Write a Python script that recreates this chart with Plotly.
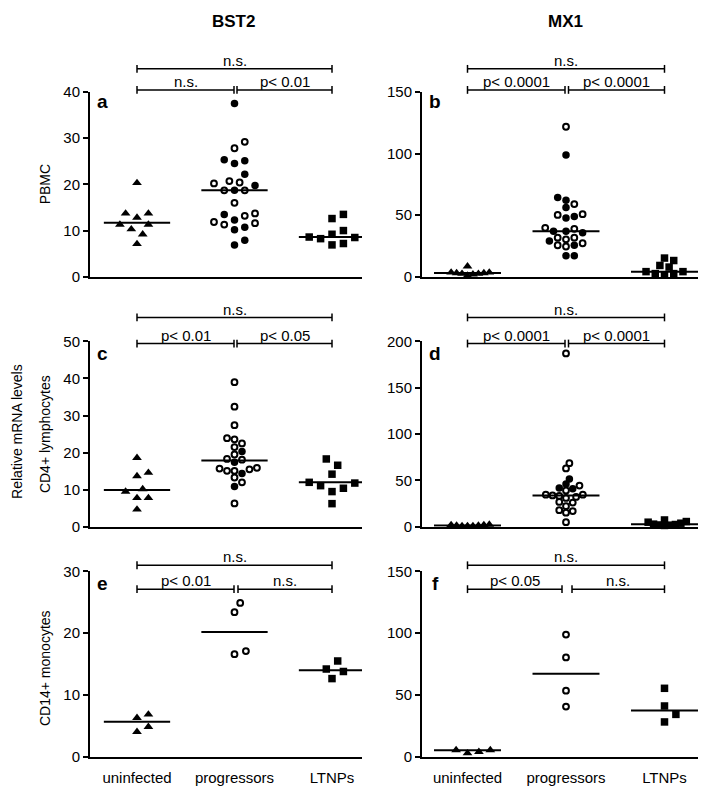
import numpy as np
import plotly.graph_objects as go

# ---------------- data ----------------
categories = ["uninfected", "progressors", "LTNPs"]
genes = ["BST2", "MX1"]
cell_types = ["PBMC", "CD4+ lymphocytes", "CD14+ monocytes"]
panel_letters = ["a", "b", "c", "d", "e", "f"]

# a: BST2 / PBMC
a_uninf = [20.3, 13.7, 13.7, 12.8, 11.3, 11.3, 10.3, 9.2, 7.1]
a_prog_filled = [37.5, 25.3, 25.1, 24.5, 22.2, 19.75, 18.7, 13.5, 12.3, 10.7, 10.2, 7.9, 6.9]
a_prog_open = [29.2, 27.8, 20.7, 20.4, 20.2, 18.7, 18.7, 16.0, 13.7, 13.2, 11.85, 11.6, 11.3]
a_ltnp = [13.5, 12.6, 10.0, 9.2, 8.6, 8.5, 8.25, 7.2, 6.9]
a_medians = [11.7, 18.7, 8.6]

# b: MX1 / PBMC
b_uninf = [2.5, 3.0, 3.5, 1.0, 3.0, 2.5, 8.5, 2.0, 3.5]
b_prog_filled = [98.7, 64.3, 62.1, 56.3, 48.9, 47.6, 37.0, 37.0, 35.7, 29.0, 25.6, 17.1, 17.1]
b_prog_open = [121.7, 59.0, 50.8, 50.2, 39.7, 38.9, 31.7, 31.7, 30.4, 27.2, 25.6, 24.6]
b_ltnp = [15.2, 13.2, 9.2, 7.9, 4.2, 4.2, 2.6, 2.6, 1.6]
b_medians = [3.0, 37.0, 4.2]

# c: BST2 / CD4+
c_uninf = [18.6, 14.6, 13.7, 10.2, 9.5, 7.8, 7.8, 4.7]
c_prog_filled = [20.3, 17.4, 14.4, 10.9]
c_prog_open = [39.0, 32.4, 27.4, 23.9, 23.6, 22.5, 21.5, 19.5, 18.3, 18.1, 15.9,
               15.7, 15.5, 15.1, 15.1, 13.3, 12.0, 6.3]
c_ltnp = [18.3, 16.6, 14.2, 12.0, 11.8, 11.1, 10.4, 9.5, 6.25]
c_medians = [9.9, 17.9, 12.0]

# d: MX1 / CD4+
d_uninf = [1.0, 2.0, 1.5, 1.0, 2.5, 1.5, 2.0, 1.0]
d_prog_filled = [51.6, 46.3, 41.8, 41.0]
d_prog_open = [187.0, 68.6, 63.0, 44.5, 39.2, 34.7, 34.7, 33.9, 33.3, 32.2, 31.2,
               26.9, 26.2, 22.3, 18.0, 17.0, 15.3, 5.0]
d_ltnp = [7.4, 5.7, 5.0, 3.9, 2.9, 2.5, 2.0, 1.8, 1.5]
d_medians = [1.5, 33.9, 2.9]

# e: BST2 / CD14+
e_uninf = [6.85, 6.3, 4.85, 4.05]
e_prog_filled = []
e_prog_open = [24.9, 23.4, 17.1, 16.6]
e_ltnp = [15.5, 14.2, 13.8, 12.65]
e_medians = [5.65, 20.2, 14.0]

# f: MX1 / CD14+
f_uninf = [5.5, 5.5, 4.0, 2.9]
f_prog_filled = []
f_prog_open = [98.9, 80.4, 53.5, 40.6]
f_ltnp = [55.4, 41.1, 34.3, 28.2]
f_medians = [5.3, 67.2, 37.4]

y_max = [40, 150, 50, 200, 30, 150]
y_dtick = [10, 50, 10, 50, 10, 50]

bracket_labels = [
    ("n.s.", "n.s.", "p< 0.01"),
    ("n.s.", "p< 0.0001", "p< 0.0001"),
    ("n.s.", "p< 0.01", "p< 0.05"),
    ("n.s.", "p< 0.0001", "p< 0.0001"),
    ("n.s.", "p< 0.01", "n.s."),
    ("n.s.", "p< 0.05", "n.s."),
]

panels = [
    (a_uninf, a_prog_filled, a_prog_open, a_ltnp, a_medians),
    (b_uninf, b_prog_filled, b_prog_open, b_ltnp, b_medians),
    (c_uninf, c_prog_filled, c_prog_open, c_ltnp, c_medians),
    (d_uninf, d_prog_filled, d_prog_open, d_ltnp, d_medians),
    (e_uninf, e_prog_filled, e_prog_open, e_ltnp, e_medians),
    (f_uninf, f_prog_filled, f_prog_open, f_ltnp, f_medians),
]

# ---------------- layout geometry (page pixels) ----------------
W, H = 710, 793
OFF = 8  # the page body margin shifts the figure by 8px
FONT = "Arial, 'Liberation Sans', sans-serif"
col_px = [(90, 362), (422, 698)]
col_cat0 = [137.0, 467.5]
col_step = [97.5, 98.5]
row_px = [(84.5, 273.5), (339.5, 529.0), (574.5, 764.0)]
row_brackets = [(61.0, 82.5), (315.0, 341.7), (568.3, 592.7)]
lower_gap_px = [(0.5, 2.5), (1.0, 2.5), (0.5, 2.5), (1.0, 2.5), (0.5, 3.5), (4.0, 6.0)]
letter_y = [94, 352, 587]
letter_x = [103, 435]


def pyp(y):
    return 1 - (y - OFF) / H


def pxp(x):
    return (x - OFF) / W


def swarm(vals, ppu_y, ppu_x, D=10.0, h=5.7, limit=24.0):
    vals = np.asarray(vals, float)
    if len(vals) == 0:
        return np.zeros(0)
    cands = [0]
    for j in range(1, 80):
        cands += [j, -j]
    scale = 1.0
    off = np.zeros(len(vals))
    for _ in range(30):
        d, s = D * scale, h * scale
        order = np.argsort(vals, kind="stable")
        placed = []
        off = np.zeros(len(vals))
        for i in order:
            yv = vals[i] * ppu_y
            xv = 0.0
            for kk in cands:
                xv = kk * s
                if all((xv - xp) ** 2 + (yv - yp) ** 2 >= d * d - 1e-9 for xp, yp in placed):
                    break
            placed.append((xv, yv))
            off[i] = xv
        if np.abs(off).max() <= limit:
            break
        scale *= 0.9
    return off / ppu_x


fig = go.Figure()
shapes = []
annotations = []
layout_axes = {}

for p, (uninf, pfill, popen, ltnp, meds) in enumerate(panels):
    row, col = divmod(p, 2)
    xn = "x" if p == 0 else f"x{p+1}"
    yn = "y" if p == 0 else f"y{p+1}"
    xl = col_px[col]
    yl = row_px[row]
    step = col_step[col]
    x_lo = -(col_cat0[col] - xl[0]) / step
    x_hi = (xl[1] - col_cat0[col]) / step
    ppu_x = step
    ppu_y = (yl[1] - yl[0]) / y_max[p]

    xkey = "xaxis" if p == 0 else f"xaxis{p+1}"
    ykey = "yaxis" if p == 0 else f"yaxis{p+1}"
    layout_axes[xkey] = dict(
        domain=[pxp(xl[0]), pxp(xl[1])], range=[x_lo, x_hi], anchor=yn,
        showline=True, linecolor="black", linewidth=2, showgrid=False, zeroline=False,
        ticks="", tickvals=[0, 1, 2], ticktext=categories,
        showticklabels=(row == 2), tickfont=dict(size=15, color="black", family=FONT),
        ticklabelstandoff=6,
    )
    layout_axes[ykey] = dict(
        domain=[pyp(yl[1]), pyp(yl[0])], range=[0, y_max[p]], anchor=xn,
        showline=True, linecolor="black", linewidth=2, showgrid=False, zeroline=False,
        ticks="outside", ticklen=5, tickwidth=2, tickcolor="black",
        dtick=y_dtick[p], tick0=0, tickfont=dict(size=15, color="black", family=FONT),
    )

    # scatter points
    off_u = swarm(uninf, ppu_y, ppu_x)
    prog_all = list(pfill) + list(popen)
    off_p = swarm(prog_all, ppu_y, ppu_x)
    off_l = swarm(ltnp, ppu_y, ppu_x)
    nf = len(pfill)

    fig.add_trace(go.Scatter(
        x=0 + off_u, y=uninf, mode="markers", xaxis=xn, yaxis=yn, cliponaxis=False,
        marker=dict(symbol="triangle-up", size=8.5, color="black", line=dict(width=0)),
        showlegend=False, hoverinfo="skip"))
    if nf:
        fig.add_trace(go.Scatter(
            x=1 + off_p[:nf], y=pfill, mode="markers", xaxis=xn, yaxis=yn, cliponaxis=False,
            marker=dict(symbol="circle", size=7.5, color="black", line=dict(width=0)),
            showlegend=False, hoverinfo="skip"))
    fig.add_trace(go.Scatter(
        x=1 + off_p[nf:], y=popen, mode="markers", xaxis=xn, yaxis=yn, cliponaxis=False,
        marker=dict(symbol="circle", size=5.8, color="white", line=dict(width=2, color="black")),
        showlegend=False, hoverinfo="skip"))
    fig.add_trace(go.Scatter(
        x=2 + off_l, y=ltnp, mode="markers", xaxis=xn, yaxis=yn, cliponaxis=False,
        marker=dict(symbol="square", size=7.5, color="black", line=dict(width=0)),
        showlegend=False, hoverinfo="skip"))

    # median lines
    for i, m in enumerate(meds):
        fig.add_trace(go.Scatter(
            x=[i - 0.34, i + 0.34], y=[m, m], mode="lines", xaxis=xn, yaxis=yn,
            cliponaxis=False, line=dict(color="black", width=2),
            showlegend=False, hoverinfo="skip"))

    # significance brackets
    top_y, low_y = row_brackets[row]
    gl, gr = lower_gap_px[p]
    tick_h = 4.0
    segs = [
        (0.0, 2.0, top_y, bracket_labels[p][0]),
        (0.0, 1.0 - gl / step, low_y, bracket_labels[p][1]),
        (1.0 + gr / step, 2.0, low_y, bracket_labels[p][2]),
    ]
    for x0, x1, yy, lab in segs:
        shapes.append(dict(type="line", xref=xn, yref="paper", x0=x0, x1=x1,
                           y0=pyp(yy), y1=pyp(yy), line=dict(color="black", width=1.5)))
        for xe in (x0, x1):
            shapes.append(dict(type="line", xref=xn, yref="paper", x0=xe, x1=xe,
                               y0=pyp(yy - tick_h), y1=pyp(yy + tick_h),
                               line=dict(color="black", width=1.5)))
        annotations.append(dict(text=lab, xref=xn, yref="paper", x=(x0 + x1) / 2,
                                y=pyp(yy - 8.5), showarrow=False, xanchor="center",
                                yanchor="middle", font=dict(size=15, color="black", family=FONT)))

    # panel letter
    annotations.append(dict(text=f"<b>{panel_letters[p]}</b>", xref="paper", yref="paper",
                            x=pxp(letter_x[col]), y=pyp(letter_y[row]), showarrow=False,
                            xanchor="center", yanchor="middle",
                            font=dict(size=19, color="black", family=FONT)))

# column titles
for c, g in enumerate(genes):
    annotations.append(dict(text=f"<b>{g}</b>", xref="paper", yref="paper",
                            x=pxp([233, 565][c]), y=pyp(13), showarrow=False,
                            xanchor="center", yanchor="middle",
                            font=dict(size=17, color="black", family=FONT)))

# row labels
for r, ct in enumerate(cell_types):
    annotations.append(dict(text=ct, xref="paper", yref="paper",
                            x=pxp(45), y=pyp((row_px[r][0] + row_px[r][1]) / 2 + (4 if r == 2 else 0)),
                            showarrow=False, textangle=-90, xanchor="center", yanchor="middle",
                            font=dict(size=14, color="black", family=FONT)))
annotations.append(dict(text="Relative mRNA levels", xref="paper", yref="paper",
                        x=pxp(17), y=pyp(432), showarrow=False, textangle=-90,
                        xanchor="center", yanchor="middle",
                        font=dict(size=14, color="black", family=FONT)))

fig.update_layout(
    width=W, height=H, autosize=False,
    margin=dict(l=0, r=0, t=0, b=0),
    paper_bgcolor="white", plot_bgcolor="white",
    font=dict(family=FONT, color="black"),
    shapes=shapes, annotations=annotations, showlegend=False,
    **layout_axes,
)

fig.write_html("out.html")
